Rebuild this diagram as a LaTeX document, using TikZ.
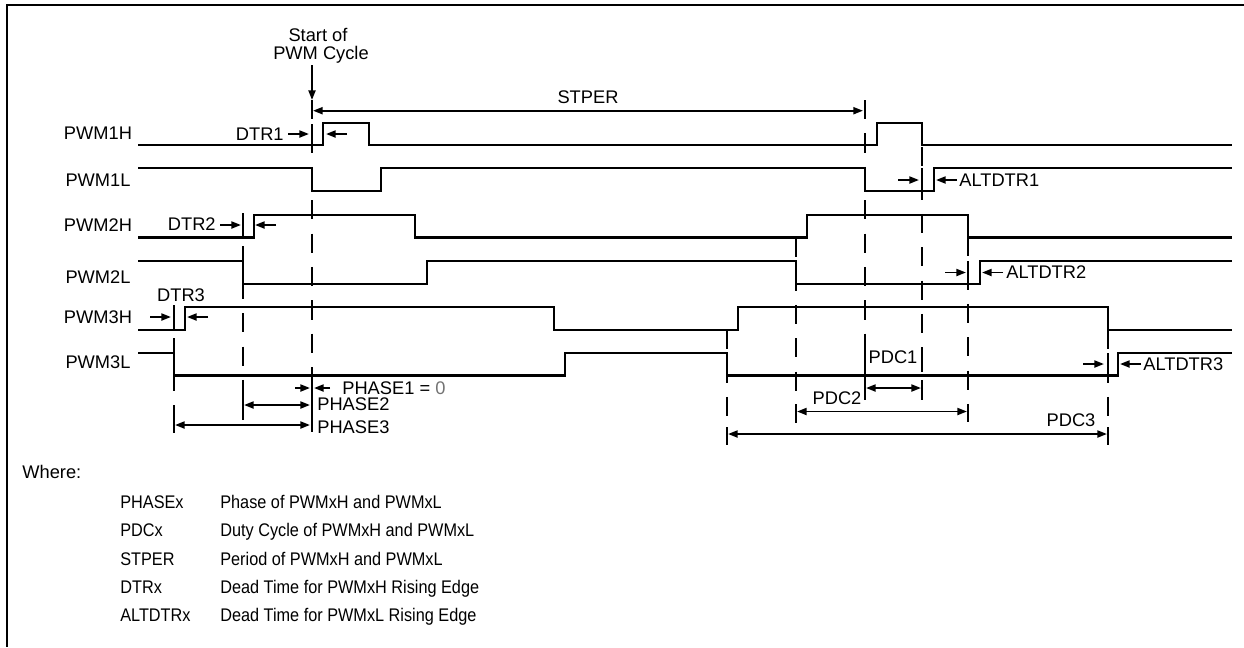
\documentclass[tikz,border=0pt]{standalone}
\usepackage{fontspec}
\setmainfont{Liberation Sans}
\newfontfamily\legendfont[FakeStretch=0.89]{Liberation Sans}
\usetikzlibrary{arrows.meta}

\begin{document}
\begin{tikzpicture}[x=0.02cm, y=-0.02cm,
	every node/.style={font=\fontsize{10.4}{12.5}\selectfont, inner sep=0pt, text height=7.4pt, text depth=0pt},
	>={Triangle[length=5.5pt,width=4pt]},
	sig/.style={line width=1.3pt},
	guide/.style={line width=1.3pt, dash pattern=on 11pt off 8pt},
	dim/.style={line width=1.1pt},
	tick/.style={line width=1.3pt},
	key/.style={anchor=west, font=\legendfont\fontsize{10.4}{12.5}\selectfont}]
	\useasboundingbox (0,0) rectangle (1244,647);
	% frame
	\draw[line width=1.6pt] (1244,5) -- (7,5) -- (7,647);
	% signal names
	\foreach \n/\y in {1H/133, 1L/180, 2H/225, 2L/277, 3H/317, 3L/362}
		\node (lab\n) at (98,\y) {PWM\n};
	% guide lines
	\foreach \x/\a/\b in {312/100/432, 865/100/400, 922/147/398, 968/237/422, 1108/330/445, 796/238/423, 727/330/445, 243/213/420, 174/305/433}
		\draw[guide] (\x,\a) -- (\x,\b);
	% waveforms
	\draw[sig] (138,145) -| (323,123) -| (369,145) -| (877,123) -| (922,145) -- (1232,145);
	\draw[sig] (138,168) -| (312,191) -| (381,168) -| (865,191) -| (934,168) -- (1232,168);
	\draw[sig] (138,237.5) -| (254,215) -| (415,237.5) -| (807,215) -| (968,237.5) -- (1232,237.5);
	\draw[sig] (138,261) -| (243,284) -| (427,261) -| (796,284) -| (980,261) -- (1232,261);
	\draw[sig] (138,330) -| (185,307) -| (554,330) -| (738,307) -| (1108,330) -- (1232,330);
	\draw[sig] (138,353) -| (174,375.5) -| (565,353) -| (727,375.5) -| (1118,353) -- (1232,353);
	% ticks at the edges
	\foreach \x/\a/\b in {312/124/146, 243/213/237, 174/305/330, 922/168/191, 968/261/284, 1108/353/376,
		312/381/405, 312/417/432, 243/398/417, 174/418/433, 865/350/372, 922/350/372, 865/380/400, 922/380/400,
		796/404/422, 968/404/422, 727/427/445, 1108/427/445}
		\draw[tick] (\x,\a) -- (\x,\b);
	% start of cycle and period
	\node (st1) at (318,35) {Start of};
	\node (st2) at (321,53) {PWM Cycle};
	\draw[dim, ->] (312,65) -- (312,100);
	\draw[dim, <->] (313,110.7) -- (863,110.7);
	\node (stper) at (588,97) {STPER};
	% dead times
	\foreach \l/\r/\y in {288/347/134, 220/276/225, 150/208/317, 898/957/180, 945/1003/272.5, 1083/1141/364} {
		\draw[dim, ->] (\l,\y) -- ++(21,0);
		\draw[dim, ->] (\r,\y) -- ++(-21,0);
	}
	\node[anchor=east] (dtr1) at (284,134) {DTR1};
	\node[anchor=east] (dtr2) at (216,224) {DTR2};
	\node (dtr3) at (181,295) {DTR3};
	\node[anchor=west] (alt1) at (959,180) {ALTDTR1};
	\node[anchor=west] (alt2) at (1006,272) {ALTDTR2};
	\node[anchor=west] (alt3) at (1143,364) {ALTDTR3};
	% phases
	\draw[dim, ->] (295,388) -- (310,388);
	\draw[dim, ->] (330,388) -- (314,388);
	\draw[dim, <->] (244,405) -- (310,405);
	\draw[dim, <->] (175,425) -- (310,425);
	\node[anchor=west] (ph1) at (342,388) {PHASE1 = {\color{black!55}0}};
	\node[anchor=west] (ph2) at (317,404) {PHASE2};
	\node[anchor=west] (ph3) at (317,427) {PHASE3};
	% duty cycles
	\draw[dim, <->] (866,388) -- (921,388);
	\draw[dim, <->] (797,411.5) -- (967,411.5);
	\draw[dim, <->] (728,434) -- (1107,434);
	\node (pdc1) at (893,357) {PDC1};
	\node (pdc2) at (837,398) {PDC2};
	\node (pdc3) at (1071,420) {PDC3};
	% legend
	\node[anchor=west] (where) at (22,472) {Where:};
	\foreach \k/\d [count=\i] in {PHASEx/Phase of PWMxH and PWMxL, PDCx/Duty Cycle of PWMxH and PWMxL,
		STPER/Period of PWMxH and PWMxL, DTRx/Dead Time for PWMxH Rising Edge, ALTDTRx/Dead Time for PWMxL Rising Edge} {
		\node[key] (key\i) at (120,{502+28.25*(\i-1)}) {\k};
		\node[key] (txt\i) at (220,{502+28.25*(\i-1)}) {\d};
	}
\end{tikzpicture}
\end{document}
